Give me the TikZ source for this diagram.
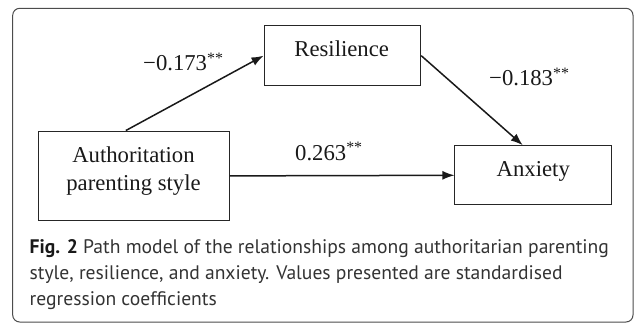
\documentclass[tikz,border=0pt]{standalone}
\usepackage{fontspec}
\setmainfont{Liberation Serif}
\newfontfamily\capfont{PT Sans}
\usetikzlibrary{arrows.meta}

\begin{document}
\begin{tikzpicture}[x=1pt,y=-1pt,
		varbox/.style={draw=black!85, line width=1pt, inner sep=0pt},
		vartext/.style={anchor=base, inner sep=0pt, text=black!90, font=\fontsize{22.7}{27.7}\selectfont},
		coef/.style={anchor=base west, inner sep=0pt, text=black!90, font=\fontsize{22.7}{27}\selectfont},
		pathline/.style={line width=1.5pt, draw=black!90, -{Latex[length=12pt,width=9pt]}}]
			%%%%% START %%%%%
			
			\useasboundingbox (0, 0) rectangle (634, 323);
			\draw[draw=black!70, line width=1pt, rounded corners=7pt] (12.7, 8.3) rectangle (633, 322);
			
			\node[varbox, minimum width=156.7pt, minimum height=60pt] (res) at (342.4, 55.7) {};
			\node[vartext] (restxt) at (341.7, 56.7) {Resilience};
			
			\node[varbox, minimum width=191pt, minimum height=89.7pt] (auth) at (133.8, 175.9) {};
			% base of a two-line node is the last line
			\node[vartext, align=center] (authtxt) at (133.5, 190) {Authoritation\\parenting style};
			
			\node[varbox, minimum width=156.7pt, minimum height=59.3pt] (anx) at (533.3, 175.3) {};
			\node[vartext] (anxtxt) at (533.3, 176.7) {Anxiety};
			
			\draw[pathline] ([xshift=-8pt]auth.north) -- (res.west);
			\draw[pathline] (res.east) -- ([xshift=-10.6pt]anx.north);
			\draw[pathline] (auth.east) -- (anx.west);
			
			\node[coef] (c1) at (143, 71) {−0.173\textsuperscript{**}};
			\node[coef] (c2) at (489, 86) {−0.183\textsuperscript{**}};
			\node[coef] (c3) at (295, 160.5) {0.263\textsuperscript{**}};
			
			\node[anchor=base west, inner sep=0pt, align=left, text=black!80, font=\capfont\fontsize{19.6}{25.8}\selectfont] (cap) at (29.5, 305)
				{{\bfseries\color{black!90}Fig. 2} Path model of the relationships among authoritarian parenting\\
				style, resilience, and anxiety. Values presented are standardised\\
				regression coefficients};
			
			%%%%% END %%%%%
\end{tikzpicture}
\end{document}
